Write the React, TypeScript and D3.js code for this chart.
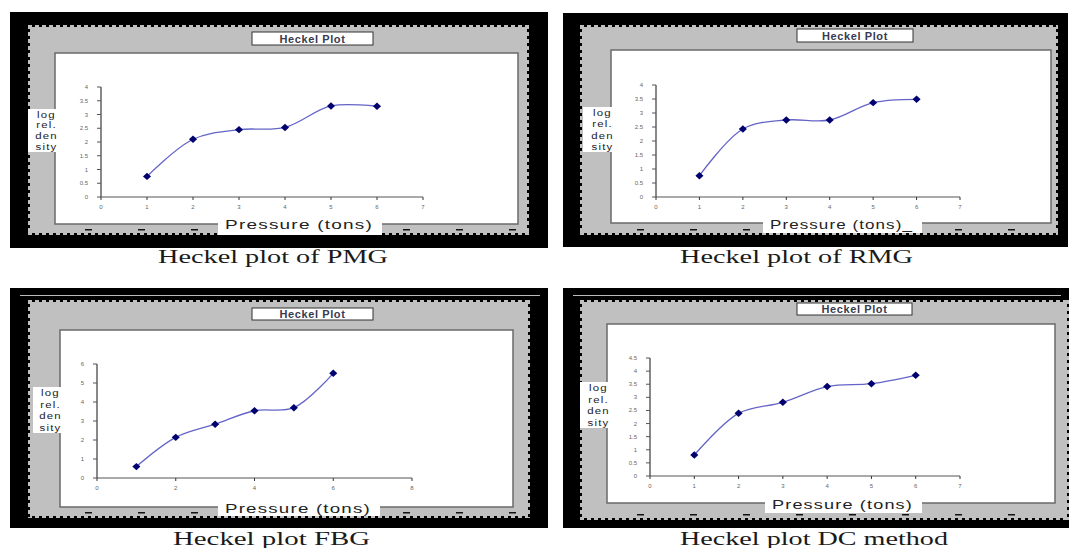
import React from "react";
import * as d3 from "d3";

const pressure = [1, 2, 3, 4, 5, 6];
const pmgValues = [0.75, 2.1, 2.45, 2.53, 3.31, 3.3];
const rmgValues = [0.76, 2.43, 2.75, 2.75, 3.37, 3.49];
const fbgValues = [0.6, 2.14, 2.83, 3.54, 3.7, 5.51];
const dcValues = [0.8, 2.39, 2.81, 3.41, 3.52, 3.84];

const xTicks7 = [0, 1, 2, 3, 4, 5, 6, 7];
const xTicks8 = [0, 2, 4, 6, 8];
const yTicks4 = [0, 0.5, 1, 1.5, 2, 2.5, 3, 3.5, 4];
const yTicks6 = [0, 1, 2, 3, 4, 5, 6];
const yTicks45 = [0, 0.5, 1, 1.5, 2, 2.5, 3, 3.5, 4, 4.5];

const chartTitle = "Heckel Plot";
const yLabelLines = ["log", "rel.", "den", "sity"];
const xLabel = "Pressure (tons)";
const captions = ["Heckel plot of PMG", "Heckel plot of RMG", "Heckel plot FBG", "Heckel plot DC method"];

type Box = { x: number; y: number; w: number; h: number };
type Panel = {
  values: number[];
  xTicks: number[];
  yTicks: number[];
  black: Box;
  gray: Box;
  white: Box;
  title: Box;
  xr: [number, number];
  yr: [number, number];
  ylab: Box;
  xlab: Box;
  xlabText: string;
  caption: string;
  cap: { x: number; y: number; len: number };
  topLine?: boolean;
};

const panels: Panel[] = [
  {
    values: pmgValues, xTicks: xTicks7, yTicks: yTicks4,
    black: { x: 10, y: 12, w: 538, h: 236 },
    gray: { x: 28, y: 25, w: 501, h: 210 },
    white: { x: 55, y: 53, w: 463, h: 171 },
    title: { x: 252, y: 32, w: 121, h: 13 },
    xr: [101, 423], yr: [197, 87],
    ylab: { x: 28, y: 109, w: 37, h: 43 },
    xlab: { x: 218, y: 217, w: 164, h: 18 },
    xlabText: xLabel,
    caption: captions[0], cap: { x: 158, y: 263, len: 230 },
  },
  {
    values: rmgValues, xTicks: xTicks7, yTicks: yTicks4,
    black: { x: 563, y: 13, w: 505, h: 234 },
    gray: { x: 580, y: 25, w: 478, h: 210 },
    white: { x: 611, y: 50, w: 440, h: 173 },
    title: { x: 797, y: 29, w: 116, h: 13 },
    xr: [656, 960], yr: [197, 85],
    ylab: { x: 583, y: 107, w: 39, h: 45 },
    xlab: { x: 763, y: 217, w: 159, h: 16 },
    xlabText: xLabel + "_",
    caption: captions[1], cap: { x: 680, y: 263, len: 233 },
  },
  {
    values: fbgValues, xTicks: xTicks8, yTicks: yTicks6,
    black: { x: 10, y: 288, w: 538, h: 240 },
    gray: { x: 28, y: 300, w: 502, h: 218 },
    white: { x: 60, y: 330, w: 453, h: 177 },
    title: { x: 252, y: 308, w: 121, h: 12 },
    xr: [97, 412], yr: [478, 364],
    ylab: { x: 33, y: 387, w: 35, h: 46 },
    xlab: { x: 218, y: 501, w: 162, h: 15 },
    xlabText: xLabel,
    caption: captions[2], cap: { x: 173, y: 545, len: 197 },
    topLine: true,
  },
  {
    values: dcValues, xTicks: xTicks7, yTicks: yTicks45,
    black: { x: 563, y: 288, w: 506, h: 240 },
    gray: { x: 580, y: 300, w: 489, h: 220 },
    white: { x: 607, y: 324, w: 448, h: 179 },
    title: { x: 797, y: 303, w: 115, h: 12 },
    xr: [650, 960], yr: [476, 358],
    ylab: { x: 580, y: 382, w: 37, h: 46 },
    xlab: { x: 765, y: 497, w: 157, h: 16 },
    xlabText: xLabel,
    caption: captions[3], cap: { x: 680, y: 545, len: 268 },
    topLine: true,
  },
];

function Teeth({ g }: { g: Box }) {
  const items: React.ReactNode[] = [];
  const step = 7;
  for (let x = g.x + 4; x < g.x + g.w - 3; x += step) {
    items.push(<rect key={"t" + x} x={x} y={g.y} width={3} height={2} fill="#000" />);
    items.push(<rect key={"b" + x} x={x} y={g.y + g.h - 2} width={3} height={2} fill="#000" />);
  }
  for (let y = g.y + 4; y < g.y + g.h - 3; y += step) {
    items.push(<rect key={"l" + y} x={g.x} y={y} width={2} height={3} fill="#000" />);
    items.push(<rect key={"r" + y} x={g.x + g.w - 2} y={y} width={2} height={3} fill="#000" />);
  }
  return <g>{items}</g>;
}

const sans = "Liberation Sans, Arial, sans-serif";

function PanelView({ p }: { p: Panel }) {
  const xMax = p.xTicks[p.xTicks.length - 1];
  const yMax = p.yTicks[p.yTicks.length - 1];
  const x = d3.scaleLinear().domain([0, xMax]).range(p.xr);
  const y = d3.scaleLinear().domain([0, yMax]).range(p.yr);
  const pts: [number, number][] = pressure.map((v, i) => [x(v), y(p.values[i])]);
  const line = d3.line().curve(d3.curveCatmullRom.alpha(0.5))(pts) || "";
  const diamond = d3.symbol().type(d3.symbolDiamond).size(22)() || "";
  const x0 = x(0);
  const y0 = y(0);
  const dashes: number[] = [];
  for (let dx = p.gray.x + 57; dx < p.gray.x + p.gray.w - 10; dx += 53) dashes.push(dx);
  const lineH = p.ylab.h / 4;
  return (
    <g>
      <rect x={p.black.x} y={p.black.y} width={p.black.w} height={p.black.h} fill="#000" />
      {p.topLine && (
        <line x1={p.black.x + 10} x2={p.black.x + p.black.w - 8} y1={p.black.y + 7.5} y2={p.black.y + 7.5} stroke="#bbb" strokeWidth={1} />
      )}
      <rect x={p.gray.x} y={p.gray.y} width={p.gray.w} height={p.gray.h} fill="#c0c0c0" />
      <Teeth g={p.gray} />
      {dashes.map((d) => (
        <rect key={d} x={d} y={p.gray.y + p.gray.h - 6} width={7} height={1.5} fill="#111" />
      ))}
      <rect x={p.white.x} y={p.white.y} width={p.white.w} height={p.white.h} fill="#fff" stroke="#6a6a6a" strokeWidth={1.5} />
      <rect x={p.title.x} y={p.title.y} width={p.title.w} height={p.title.h} fill="#fff" stroke="#333" strokeWidth={1} />
      <text x={p.title.x + p.title.w / 2} y={p.title.y + p.title.h - 2.5} textAnchor="middle" fontFamily={sans} fontWeight="bold" fontSize={11} fill="#3a3a50" letterSpacing={0.6}>
        {chartTitle}
      </text>
      <line x1={x0} x2={x0} y1={y(yMax)} y2={y0} stroke="#888" strokeWidth={2} />
      <line x1={x0} x2={x(xMax)} y1={y0} y2={y0} stroke="#555" strokeWidth={1} />
      {p.yTicks.map((t) => (
        <g key={"y" + t}>
          <line x1={x0 - 4} x2={x0} y1={y(t)} y2={y(t)} stroke="#555" strokeWidth={1} />
          <text x={x0 - 13} y={y(t) + 2} textAnchor="end" fontFamily={sans} fontSize={6} fill="#666">
            {t}
          </text>
        </g>
      ))}
      {p.xTicks.map((t) => (
        <g key={"x" + t}>
          <line x1={x(t)} x2={x(t)} y1={y0} y2={y0 + 3} stroke="#333" strokeWidth={1} />
          <text x={x(t)} y={y0 + 12} textAnchor="middle" fontFamily={sans} fontSize={6} fill="#666">
            {t}
          </text>
        </g>
      ))}
      <path d={line} fill="none" stroke="#6464c8" strokeWidth={1.3} />
      {pts.map(([px, py], i) => (
        <path key={i} d={diamond} transform={`translate(${px},${py}) scale(1.6,0.85)`} fill="#00006e" />
      ))}
      <rect x={p.ylab.x} y={p.ylab.y} width={p.ylab.w} height={p.ylab.h} fill="#fff" />
      {yLabelLines.map((l, i) => (
        <text key={l} x={p.ylab.x + p.ylab.w / 2} y={p.ylab.y + lineH * (i + 1) - 2} textAnchor="middle" fontFamily={sans} fontSize={9.5} fill="#222" letterSpacing={1} transform={`translate(${p.ylab.x + p.ylab.w / 2},0) scale(1.2,1) translate(${-(p.ylab.x + p.ylab.w / 2)},0)`}>
          {l}
        </text>
      ))}
      <rect x={p.xlab.x} y={p.xlab.y} width={p.xlab.w} height={p.xlab.h} fill="#fff" />
      <text x={p.xlab.x + 7} y={p.xlab.y + 12} fontFamily={sans} fontSize={12.5} fill="#222" letterSpacing={0.8} textLength={p.xlab.w - 16} lengthAdjust="spacingAndGlyphs">
        {p.xlabText}
      </text>
      <text x={p.cap.x} y={p.cap.y} fontFamily="Liberation Serif, Times New Roman, serif" fontSize={19} fill="#1a1a1a" textLength={p.cap.len} lengthAdjust="spacingAndGlyphs">
        {p.caption}
      </text>
    </g>
  );
}

export default function App() {
  return (
    <svg width={1069} height={548} style={{ position: "absolute", left: 0, top: 0, background: "#fff" }}>
      <rect x={0} y={0} width={1069} height={548} fill="#fff" />
      {panels.map((p, i) => (
        <PanelView key={i} p={p} />
      ))}
    </svg>
  );
}
